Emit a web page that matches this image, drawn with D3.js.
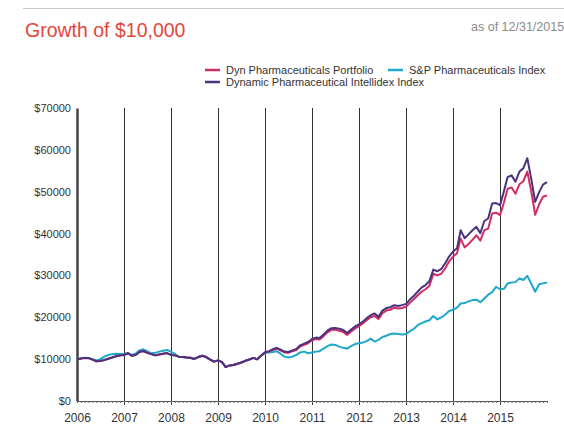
<!DOCTYPE html>
<html><head><meta charset="utf-8">
<script src="https://cdn.jsdelivr.net/npm/d3@7"></script>
<style>body{margin:0;background:#fff;}svg{display:block;font-family:Arial,"Liberation Sans",sans-serif;}</style>
</head><body>
<script>
const title = "Growth of $10,000";
const asOf = "as of 12/31/2015";
const seriesNames = ["Dyn Pharmaceuticals Portfolio", "S&P Pharmaceuticals Index", "Dynamic Pharmaceutical Intellidex Index"];
const seriesColors = ["#d22d63", "#1ea8c9", "#4a3280"];
const startDate = "2006-01-01";
const yTicks = [0, 10000, 20000, 30000, 40000, 50000, 60000, 70000];
const xTickYears = [2006, 2007, 2008, 2009, 2010, 2011, 2012, 2013, 2014, 2015];

// monthly values, Jan 2006 .. Jan 2016 (121 points)
const portfolio = [
 10000,10120,10280,10230,9880,9480,9530,9790,10080,10380,10680,10880,
 11000,11400,10800,11000,11700,11950,11500,11200,10900,11100,11300,11450,
 11000,10900,10600,10500,10400,10350,10050,10500,10800,10500,9900,9400,
 9700,9300,8100,8500,8600,8900,9200,9600,9900,10300,9950,10800,
 11600,11800,12200,12500,12100,11600,11500,11900,12200,13000,13400,13800,
 14500,14800,14700,15500,16400,17000,17000,16800,16500,15800,16600,17300,
 17900,18600,19300,20000,20300,19600,21000,21600,21800,22300,22100,22200,
 22500,23500,24300,25200,26100,26700,27500,30400,30000,30400,31700,33300,
 34500,35300,38800,36700,37500,38500,39600,38300,40800,41200,44800,45000,
 44400,47500,50700,51000,49500,51800,52500,54800,50000,44500,47000,48800,
 49100];
const spIndex = [
 10000,10200,10350,10300,10000,9700,10000,10600,11000,11200,11300,11250,
 11250,11500,11000,11300,12100,12350,11900,11400,11500,11800,12000,12200,
 11800,11200,10600,10500,10400,10350,10050,10500,10800,10500,9900,9400,
 9700,9300,8100,8500,8600,8900,9200,9600,9900,10300,9950,10800,
 11500,11600,11700,11900,11300,10600,10400,10600,11000,11600,11800,11400,
 11600,11800,11900,12500,13100,13500,13400,13000,12700,12500,13100,13600,
 13800,14000,14300,14900,14200,14600,15300,15600,16000,16100,16000,15900,
 16000,16700,17200,18100,18600,19000,19300,20300,19500,20000,20600,21500,
 21800,22300,23300,23400,23800,24100,24200,23600,24500,25400,26000,27300,
 26700,26800,28100,28300,28400,29300,28900,29900,28000,26100,27900,28100,
 28300];
const intellidex = [
 10000,10150,10300,10250,9900,9500,9550,9800,10100,10400,10700,10900,
 11000,11400,10800,11000,11700,11950,11500,11200,10900,11100,11300,11450,
 11000,10900,10600,10500,10400,10350,10050,10500,10800,10500,9900,9400,
 9700,9300,8100,8500,8600,8900,9200,9600,9900,10300,9950,10800,
 11650,11900,12350,12700,12300,11800,11700,12100,12450,13300,13700,14100,
 14800,15150,15050,15900,16800,17400,17450,17250,16950,16250,17050,17800,
 18300,19000,19800,20500,20900,20100,21600,22200,22400,22900,22700,22900,
 23200,24300,25100,26100,27100,27700,28600,31400,31000,31500,32900,34500,
 35700,36500,40800,38900,39800,40800,41600,40100,43000,43600,47200,47300,
 46800,50200,53500,53900,52400,54800,55600,58000,53000,47600,49900,51700,
 52300];

const W = 564, H = 426;
const m = {left: 77, right: 17, top: 108, bottom: 25};
const svg = d3.select("body").append("svg").attr("width", W).attr("height", H);

svg.append("line").attr("x1", 23).attr("x2", W).attr("y1", 8.5).attr("y2", 8.5)
  .attr("stroke", "#c8c8c8").attr("stroke-width", 1);
svg.append("text").attr("x", 25).attr("y", 37).attr("fill", "#e4463c")
  .attr("font-size", "19.5px").text(title);
svg.append("text").attr("x", 471).attr("y", 31).attr("fill", "#8a8a8a")
  .attr("font-size", "12.5px").text(asOf);

const t0 = new Date(startDate);
const dates = portfolio.map((d, i) => d3.timeMonth.offset(t0, i));
const x = d3.scaleTime().domain([t0, dates[dates.length - 1]]).range([m.left, W - m.right]);
const y = d3.scaleLinear().domain([0, 70000]).range([H - m.bottom, m.top]);

// vertical year grid lines
const g = svg.append("g");
g.selectAll("line.grid").data(xTickYears.slice(1)).join("line")
  .attr("x1", d => Math.round(x(new Date(d, 0, 1))) + 0.5)
  .attr("x2", d => Math.round(x(new Date(d, 0, 1))) + 0.5)
  .attr("y1", m.top).attr("y2", H - m.bottom + 4)
  .attr("stroke", "#333").attr("stroke-width", 1);

// bottom axis with monthly minor ticks
const xAxis = d3.axisBottom(x).ticks(d3.timeMonth.every(1)).tickSize(2).tickFormat("");
const xa = svg.append("g").attr("transform", `translate(0,${H - m.bottom})`).call(xAxis);
xa.select(".domain").attr("stroke", "#555");
xa.selectAll(".tick line").attr("stroke", "#666");

const xLab = svg.append("g").attr("transform", `translate(0,${H - m.bottom})`)
  .call(d3.axisBottom(x).tickValues(xTickYears.map(d => new Date(d, 0, 1))).tickSize(0).tickPadding(12)
  .tickFormat(d3.timeFormat("%Y")));
xLab.select(".domain").remove();
xLab.selectAll("text").attr("font-size", "12px").attr("fill", "#333").attr("font-family", "Arial, 'Liberation Sans', sans-serif");

// y axis
const ya = svg.append("g").attr("transform", `translate(${m.left},0)`)
  .call(d3.axisLeft(y).tickValues(yTicks).tickSize(0).tickPadding(6).tickFormat(d => "$" + d));
ya.select(".domain").attr("stroke", "#444").attr("stroke-width", 2.5);
ya.selectAll("text").attr("font-size", "11px").attr("fill", "#333").attr("font-family", "Arial, 'Liberation Sans', sans-serif");

const line = d3.line().x((d, i) => x(dates[i])).y(d => y(d));
const order = [[spIndex, 1], [portfolio, 0], [intellidex, 2]];
order.forEach(([data, k]) => {
  svg.append("path").datum(data).attr("d", line).attr("fill", "none")
    .attr("stroke", seriesColors[k]).attr("stroke-width", 2).attr("stroke-linejoin", "round");
});

// legend
const legendItems = [
  {k: 0, x: 205, y: 70},
  {k: 1, x: 388, y: 70},
  {k: 2, x: 205, y: 82}
];
const lg = svg.append("g").selectAll("g").data(legendItems).join("g")
  .attr("transform", d => `translate(${d.x},${d.y})`);
lg.append("line").attr("x1", 0).attr("x2", 15).attr("y1", 0).attr("y2", 0)
  .attr("stroke", d => seriesColors[d.k]).attr("stroke-width", 2.5);
lg.append("text").attr("x", 21).attr("y", 4).attr("font-size", "11px").attr("fill", "#333")
  .text(d => seriesNames[d.k]);
</script>
</body></html>
